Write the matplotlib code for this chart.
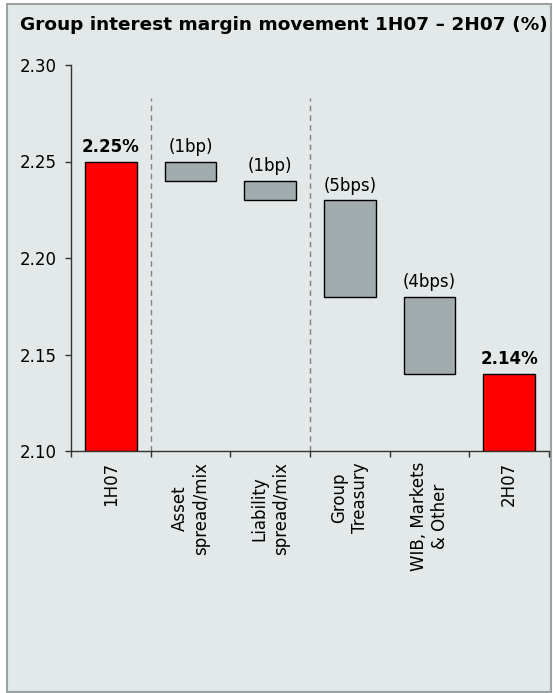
import matplotlib.pyplot as plt
from matplotlib.patches import Rectangle

plt.rcParams['font.family'] = ['DejaVu Sans']

categories = ["1H07", "Asset\nspread/mix", "Liability\nspread/mix",
              "Group\nTreasury", "WIB, Markets\n& Other", "2H07"]
bar_bottom = [2.10, 2.24, 2.23, 2.18, 2.14, 2.10]
bar_top = [2.25, 2.25, 2.24, 2.23, 2.18, 2.14]
bar_labels = ["2.25%", "(1bp)", "(1bp)", "(5bps)", "(4bps)", "2.14%"]
is_total = [True, False, False, False, False, True]
yticks = [2.10, 2.15, 2.20, 2.25, 2.30]

red = "#FF0000"
grey = "#A2ABAE"
panel_bg = "#E3E8E8"

fig = plt.figure(figsize=(5.53, 6.93), dpi=100)
fig.patch.set_facecolor("white")

# grey boxed panel behind the chart
W, H = 553, 693
fig.patches.append(Rectangle((6.5 / W, 1.5 / H), (551 - 6.5) / W, (689 - 1.5) / H,
                             transform=fig.transFigure, facecolor=panel_bg,
                             edgecolor="#9AA2A2", linewidth=1.5, zorder=-5))

fig.text(20 / W, 1 - 30 / H, "Group interest margin movement 1H07 \u2013 2H07 (%)",
         fontsize=13.3, fontweight="bold", ha="left", va="baseline")

ax = fig.add_axes([71 / W, 1 - 451 / H, (549 - 71) / W, (451 - 65) / H])
ax.set_facecolor("none")

x = list(range(len(categories)))
heights = [t - b for t, b in zip(bar_top, bar_bottom)]
colors = [red if t else grey for t in is_total]
ax.bar(x, heights, bottom=bar_bottom, width=0.65, color=colors,
       edgecolor="black", linewidth=1, zorder=3)

for xi, top, lab, tot in zip(x, bar_top, bar_labels, is_total):
    ax.annotate(lab, (xi, top), xytext=(0, 4), textcoords="offset points",
                ha="center", va="bottom", fontsize=12,
                fontweight="bold" if tot else "normal")

# dashed separators between the totals and the movement groups
for sep in [0.5, 2.5]:
    ax.plot([sep, sep], [2.10, 2.283], color="#808080", linestyle=(0, (4, 3)),
            linewidth=1, zorder=1)

ax.set_xlim(-0.5, len(categories) - 0.5)
ax.set_ylim(2.10, 2.30)
ax.set_yticks(yticks)
ax.set_yticklabels([f"{v:.2f}" for v in yticks], fontsize=12)
ax.set_xticks([i - 0.5 for i in range(len(categories) + 1)])
ax.set_xticklabels([])
ax.tick_params(axis="both", direction="out", length=4, width=1, color="#333333")
ax.tick_params(axis="y", pad=6)

for side in ["top", "right"]:
    ax.spines[side].set_visible(False)
for side in ["left", "bottom"]:
    ax.spines[side].set_color("#333333")
    ax.spines[side].set_linewidth(1)

# rotated category names under each bar
for xi, cat in zip(x, categories):
    ax.annotate(cat, (xi, 0), xycoords=("data", "axes fraction"),
                xytext=(0, -8), textcoords="offset points", fontsize=12,
                rotation=90, ha="center", va="top", multialignment="center")

fig.savefig("out.png", dpi=100, facecolor=fig.get_facecolor())
